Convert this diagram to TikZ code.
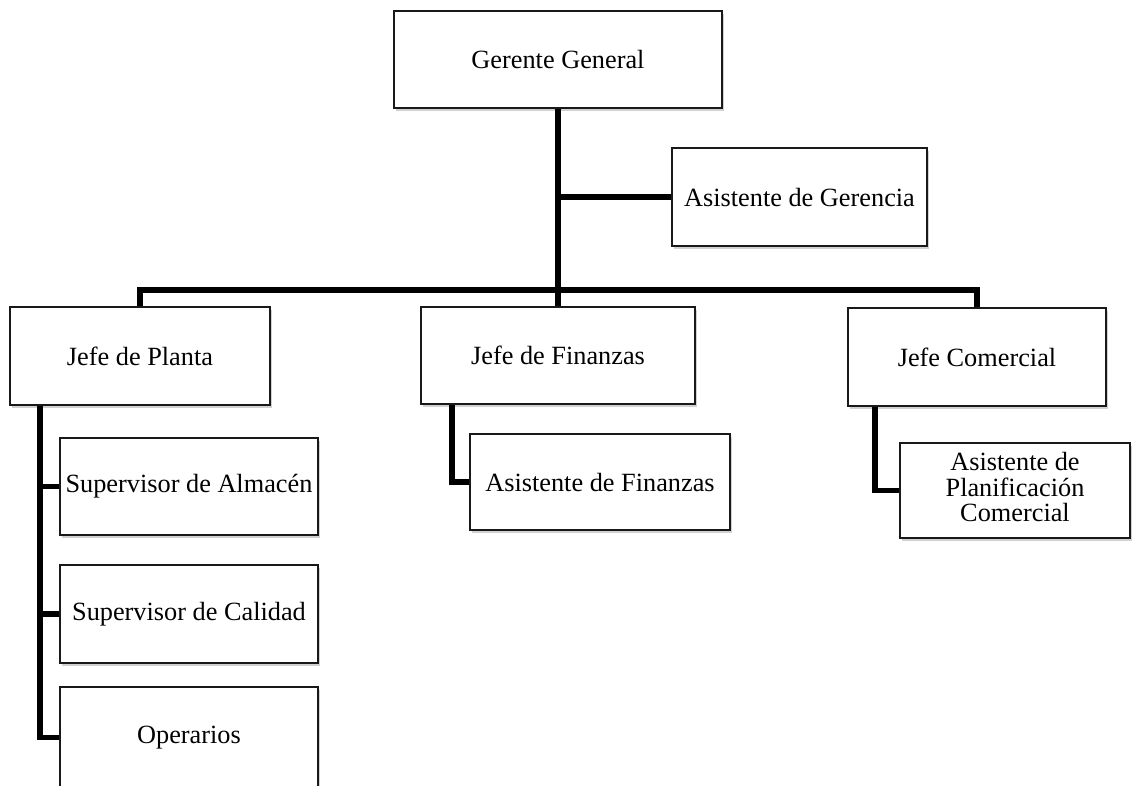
\documentclass[tikz,border=0pt]{standalone}
\usepackage{fontspec}
\setmainfont{Liberation Serif}
\usetikzlibrary{shadows}
\begin{document}
\begin{tikzpicture}[x=1pt,y=-1pt,
  orgbox/.style={draw=black!90, line width=2.2pt, fill=white, rectangle,
    inner sep=0pt,
    font=\fontsize{26.3}{25}\selectfont,
    drop shadow={shadow xshift=1.5pt, shadow yshift=-2.5pt, opacity=0.18, fill=black}},
  link/.style={draw=black, line width=5.5pt, line join=miter}]
\useasboundingbox (0,0) rectangle (1134,785);
\fill[white] (0,0) rectangle (1134,785);

% top level
\node[orgbox, minimum width=328pt, minimum height=97pt] (gg) at (558,59.5) {Gerente General};
\node[orgbox, minimum width=255pt, minimum height=98pt] (ag) at (799.5,197) {Asistente de Gerencia};

% department heads
\node[orgbox, minimum width=260pt, minimum height=98pt] (jp) at (140,356) {Jefe de Planta};
\node[orgbox, minimum width=274pt, minimum height=97pt] (jf) at (558,355.5) {Jefe de Finanzas};
\node[orgbox, minimum width=258pt, minimum height=98pt] (jc) at (977,357) {Jefe Comercial};

% staff
\node[orgbox, minimum width=258pt, minimum height=97pt] (sa) at (189,486.5) {Supervisor de Almacén};
\node[orgbox, minimum width=258pt, minimum height=98pt] (sc) at (189,614) {Supervisor de Calidad};
\node[orgbox, minimum width=258pt, minimum height=101pt] (op) at (189,737.5) {Operarios};
\node[orgbox, minimum width=260pt, minimum height=96pt] (af) at (600,482) {Asistente de Finanzas};
\node[orgbox, minimum width=230pt, minimum height=95pt] (apc) at (1015,490.5)
  {\begin{tabular}{@{}c@{}}Asistente de\\Planificación\\Comercial\end{tabular}};

% connectors
\coordinate (bar) at (558,290);
\coordinate (jpx) at ([xshift=-100pt]jp.south);
\coordinate (jfx) at ([xshift=-106pt]jf.south);
\coordinate (jcx) at ([xshift=-102pt]jc.south);

\draw[link] (gg.south) -- (jf.north);
\draw[link] (gg.south |- ag.west) -- (ag.west);
\draw[link] (jp.north) |- (bar) -| (jc.north);
\draw[link] (jpx) |- (sa.west);
\draw[link] (jpx) |- (sc.west);
\draw[link] (jpx) |- (op.west);
\draw[link] (jfx) |- (af.west);
\draw[link] (jcx) |- (apc.west);
\end{tikzpicture}
\end{document}
